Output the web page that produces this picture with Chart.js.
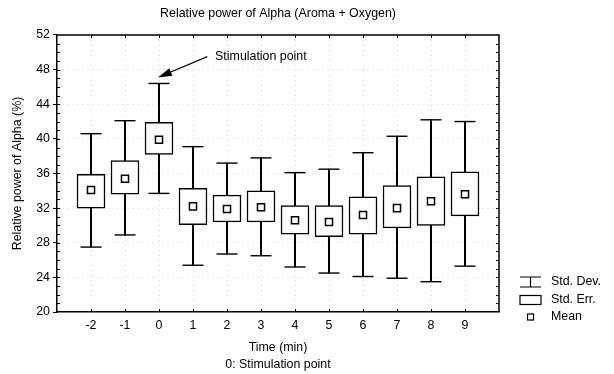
<!DOCTYPE html>
<html>
<head>
<meta charset="utf-8">
<title>Relative power of Alpha</title>
<script src="https://cdn.jsdelivr.net/npm/chart.js@4.4.0/dist/chart.umd.min.js"></script>
<style>
  html, body { margin: 0; padding: 0; background: #fff; overflow: hidden; }
  canvas { display: block; }
</style>
</head>
<body>
<canvas id="alphaChart" width="614" height="374"></canvas>
<script>
  // minutes relative to the stimulation (0)
  const times = [-2, -1, 0, 1, 2, 3, 4, 5, 6, 7, 8, 9];
  const means = [34.1, 35.4, 39.9, 32.2, 31.9, 32.1, 30.6, 30.4, 31.2, 32.0, 32.8, 33.6];
  const seLow = [32.0, 33.6, 38.2, 30.1, 30.4, 30.4, 29.0, 28.7, 29.0, 29.7, 30.0, 31.1];
  const seHigh = [35.9, 37.5, 41.9, 34.3, 33.5, 34.0, 32.3, 32.3, 33.3, 34.6, 35.6, 36.2];
  const sdLow = [27.5, 28.9, 33.7, 25.4, 26.7, 26.5, 25.2, 24.5, 24.1, 23.9, 23.5, 25.3];
  const sdHigh = [40.6, 42.1, 46.4, 39.1, 37.2, 37.8, 36.1, 36.5, 38.4, 40.3, 42.2, 42.0];
  const yTicks = [20, 24, 28, 32, 36, 40, 44, 48, 52];
  const legendLabels = ['Std. Dev.', 'Std. Err.', 'Mean'];

  // arrow note, in data units
  const noteText = 'Stimulation point';
  const noteTip = [-0.03, 47.1];
  const noteTail = [1.42, 49.5];
  const noteAt = [1.65, 49.5];

  const FONT = '"Liberation Sans", Arial, Helvetica, sans-serif';
  const FS = 12.4;

  function pts(vals) {
    return times.map((t, i) => ({ x: t, y: vals[i] }));
  }

  function ranges(lo, hi) {
    return times.map((t, i) => ({ x: t, y: [lo[i], hi[i]] }));
  }

  // outer frame, inward tick marks, the legend and the arrow note
  const extras = {
    id: 'extras',
    afterDraw(chart) {
      const { ctx, chartArea: a, scales: { x, y } } = chart;
      ctx.save();
      ctx.strokeStyle = '#000';
      ctx.fillStyle = '#000';

      ctx.lineWidth = 1.5;
      ctx.beginPath();
      ctx.moveTo(a.left, a.top);
      ctx.lineTo(a.right, a.top);
      ctx.lineTo(a.right, a.bottom);
      ctx.stroke();

      ctx.lineWidth = 1;
      ctx.beginPath();
      times.forEach(t => {
        const px = Math.round(x.getPixelForValue(t)) + 0.5;
        ctx.moveTo(px, a.bottom); ctx.lineTo(px, a.bottom - 3);
        ctx.moveTo(px, a.top); ctx.lineTo(px, a.top + 3);
      });
      for (let v = yTicks[0] + 1; v < yTicks[yTicks.length - 1]; v++) {
        const py = Math.round(y.getPixelForValue(v)) + 0.5;
        ctx.moveTo(a.left, py); ctx.lineTo(a.left + 3, py);
        ctx.moveTo(a.right, py); ctx.lineTo(a.right - 3, py);
      }
      ctx.stroke();

      // arrow to the stimulation minute
      const tx = x.getPixelForValue(noteTip[0]), ty = y.getPixelForValue(noteTip[1]);
      const sx = x.getPixelForValue(noteTail[0]), sy = y.getPixelForValue(noteTail[1]);
      const ang = Math.atan2(ty - sy, tx - sx);
      const c = Math.cos(ang), s = Math.sin(ang);
      ctx.lineWidth = 1.2;
      ctx.beginPath();
      ctx.moveTo(sx, sy);
      ctx.lineTo(tx - 10 * c, ty - 10 * s);
      ctx.stroke();
      ctx.beginPath();
      ctx.moveTo(tx, ty);
      ctx.lineTo(tx - 14 * c + 4 * s, ty - 14 * s - 4 * c);
      ctx.lineTo(tx - 14 * c - 4 * s, ty - 14 * s + 4 * c);
      ctx.closePath();
      ctx.fill();

      ctx.font = FS + 'px ' + FONT;
      ctx.textBaseline = 'middle';
      ctx.textAlign = 'left';
      ctx.fillText(noteText, x.getPixelForValue(noteAt[0]), y.getPixelForValue(noteAt[1]));

      // legend
      const lx = a.right + 21, lw = 21, tx2 = a.right + 52;
      const rows = [a.bottom - 30, a.bottom - 12, a.bottom + 5];
      ctx.lineWidth = 1.2;
      ctx.beginPath();
      ctx.moveTo(lx, rows[0] - 5); ctx.lineTo(lx + lw, rows[0] - 5);
      ctx.moveTo(lx + lw / 2, rows[0] - 5); ctx.lineTo(lx + lw / 2, rows[0] + 5);
      ctx.moveTo(lx, rows[0] + 5); ctx.lineTo(lx + lw, rows[0] + 5);
      ctx.stroke();
      ctx.strokeRect(lx, rows[1] - 4.5, lw, 9);
      ctx.strokeRect(lx + lw / 2 - 3, rows[2] - 3, 6, 6);
      legendLabels.forEach((lab, i) => ctx.fillText(lab, tx2, rows[i]));

      ctx.restore();
    }
  };

  new Chart(document.getElementById('alphaChart'), {
    type: 'bar',
    data: {
      datasets: [
        {
          // mean marker
          type: 'scatter',
          data: pts(means),
          pointStyle: 'rect',
          pointRadius: 5,
          pointBorderWidth: 1.5,
          borderColor: '#000',
          backgroundColor: '#fff',
          order: 0
        },
        {
          // std. err. box
          type: 'bar',
          data: ranges(seLow, seHigh),
          backgroundColor: '#fff',
          borderColor: '#000',
          borderWidth: 1.5,
          borderSkipped: false,
          barThickness: 28,
          grouped: false,
          order: 1
        },
        {
          // std. dev. whisker stem
          type: 'bar',
          data: ranges(sdLow, sdHigh),
          backgroundColor: '#000',
          borderWidth: 0,
          barThickness: 1.4,
          grouped: false,
          order: 2
        },
        {
          // whisker caps
          type: 'scatter',
          data: pts(sdHigh).concat(pts(sdLow)),
          pointStyle: 'line',
          pointRadius: 10.5,
          pointBorderWidth: 1.4,
          borderColor: '#000',
          backgroundColor: '#000',
          order: 3
        }
      ]
    },
    options: {
      responsive: false,
      animation: false,
      layout: { padding: { left: 0, right: 115, top: 0, bottom: 0 } },
      plugins: {
        legend: { display: false },
        tooltip: { enabled: false },
        title: {
          display: true,
          text: 'Relative power of Alpha (Aroma + Oxygen)',
          fullSize: false,
          color: '#000',
          font: { family: FONT, size: FS, weight: 'normal', lineHeight: 1.2 },
          padding: { top: 6.5, bottom: 13.6 }
        }
      },
      scales: {
        x: {
          type: 'linear',
          offset: false,
          min: -3,
          max: 10,
          afterBuildTicks: s => { s.ticks = times.map(v => ({ value: v })); },
          afterFit: s => { s.height = 62; },
          grid: { offset: false, color: '#d4d4d4', lineWidth: 1, drawTicks: false },
          border: { display: true, color: '#000', width: 1.5, dash: [1, 4] },
          ticks: { color: '#000', padding: 6, font: { family: FONT, size: FS } },
          title: {
            display: true,
            text: ['Time (min)', '0: Stimulation point'],
            color: '#000',
            font: { family: FONT, size: FS, lineHeight: 1.4 },
            padding: { top: 0, bottom: 0.5 }
          }
        },
        y: {
          min: 20,
          max: 52,
          afterBuildTicks: s => { s.ticks = yTicks.map(v => ({ value: v })); },
          afterFit: s => { s.width = 57; },
          grid: { color: '#d4d4d4', lineWidth: 1, drawTicks: true, tickLength: 4, tickColor: '#000', tickWidth: 1 },
          border: { display: true, color: '#000', width: 1.5, dash: [1, 4] },
          ticks: { color: '#000', padding: 3, font: { family: FONT, size: FS } },
          title: {
            display: true,
            text: 'Relative power of Alpha (%)',
            color: '#000',
            font: { family: FONT, size: FS, lineHeight: 1.2 },
            padding: { top: 10.5, bottom: 0 }
          }
        }
      }
    },
    plugins: [extras]
  });
</script>
</body>
</html>
